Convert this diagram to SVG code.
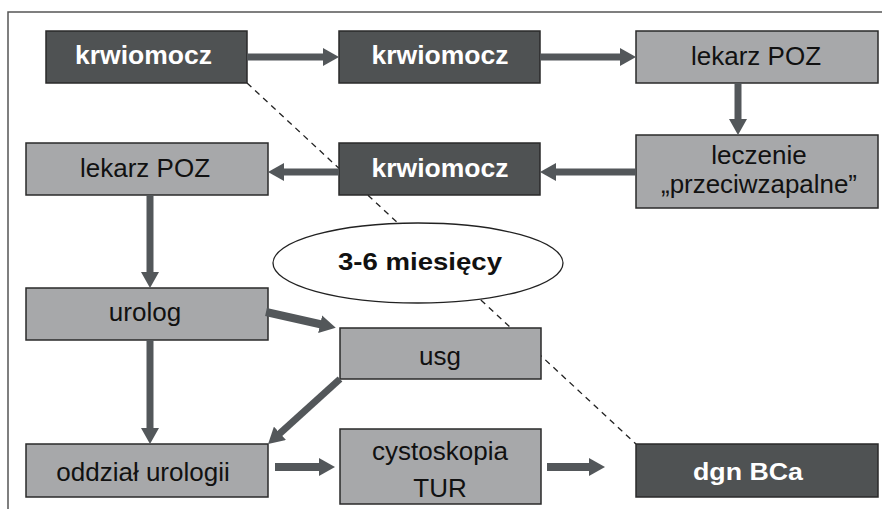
<svg xmlns="http://www.w3.org/2000/svg" width="882" height="509" viewBox="0 0 882 509">
<defs>
<style>
.dark rect{fill:#4f5253;stroke:#2a2a2a;stroke-width:1.5}
.light rect{fill:#a7a8aa;stroke:#2a2a2a;stroke-width:1.5}
.dark text{font-family:"Liberation Sans",Arial,sans-serif;font-weight:bold;fill:#ffffff;text-anchor:middle}
.light text{font-family:"Liberation Sans",Arial,sans-serif;font-size:26px;fill:#111111;text-anchor:middle}
.arr{stroke:#53575a;stroke-width:7;fill:none;marker-end:url(#ah)}
.dash{stroke:#222;stroke-width:1.3;stroke-dasharray:6 5;fill:none}
</style>
<marker id="ah" markerUnits="userSpaceOnUse" viewBox="0 0 16 18" markerWidth="16" markerHeight="18" refX="6" refY="9" orient="auto">
<path d="M0,0 L16,9 L0,18 z" fill="#53575a"/>
</marker>
</defs>
<rect width="882" height="509" fill="#ffffff"/>
<path d="M8,509 L8,12 L882,12" stroke="#555" stroke-width="1.5" fill="none"/>
<line class="dash" x1="247" y1="83" x2="636" y2="444"/>
<g id="n1" class="dark"><rect x="46" y="31" width="201" height="52"/><text x="143.5" y="64" font-size="25" textLength="137" lengthAdjust="spacingAndGlyphs">krwiomocz</text></g>
<g id="n2" class="dark"><rect x="339" y="31" width="201" height="52"/><text x="440" y="64" font-size="25" textLength="137" lengthAdjust="spacingAndGlyphs">krwiomocz</text></g>
<g id="n3" class="light"><rect x="636" y="31" width="242" height="52"/><text x="756" y="65">lekarz POZ</text></g>
<g id="n4" class="light"><rect x="636" y="135" width="242" height="73"/><text x="759" y="164" font-size="25">leczenie</text><text x="759" y="193" font-size="25" textLength="196" lengthAdjust="spacingAndGlyphs">„przeciwzapalne”</text></g>
<g id="n5" class="dark"><rect x="339" y="143" width="201" height="52"/><text x="440" y="177" font-size="25" textLength="137" lengthAdjust="spacingAndGlyphs">krwiomocz</text></g>
<g id="n6" class="light"><rect x="26" y="143" width="242" height="52"/><text x="145" y="177">lekarz POZ</text></g>
<g id="n7" class="light"><rect x="26" y="288" width="242" height="52"/><text x="145" y="321">urolog</text></g>
<g id="n8" class="light"><rect x="340" y="328" width="201" height="51"/><text x="440" y="365">usg</text></g>
<g id="n9" class="light"><rect x="26" y="444" width="242" height="53"/><text x="143" y="481">oddział urologii</text></g>
<g id="n10" class="light"><rect x="340" y="429" width="201" height="75"/><text x="440" y="460">cystoskopia</text><text x="440" y="497">TUR</text></g>
<g id="n11" class="dark"><rect x="636" y="444" width="242" height="53"/><text x="748" y="480" font-size="24" textLength="110" lengthAdjust="spacingAndGlyphs">dgn BCa</text></g>
<g id="n12"><ellipse cx="418" cy="263" rx="145" ry="40" fill="#ffffff" stroke="#222" stroke-width="1.3"/><text x="420" y="270" font-family="Liberation Sans,Arial,sans-serif" font-weight="bold" font-size="24" fill="#111" text-anchor="middle" textLength="164" lengthAdjust="spacingAndGlyphs">3-6 miesięcy</text></g>
<g id="connectors">
<line class="arr" x1="247" y1="57" x2="329" y2="57"/>
<line class="arr" x1="540" y1="57" x2="626" y2="57"/>
<line class="arr" x1="738" y1="83" x2="738" y2="125"/>
<line class="arr" x1="636" y1="172" x2="550" y2="172"/>
<line class="arr" x1="339" y1="172" x2="278" y2="172"/>
<line class="arr" x1="150" y1="195" x2="150" y2="278"/>
<line class="arr" x1="150" y1="340" x2="150" y2="434"/>
<line class="arr" x1="266" y1="312" x2="326" y2="325.5" style="stroke-width:8"/>
<line class="arr" x1="340" y1="379" x2="275.5" y2="437.3"/>
<line class="arr" x1="275" y1="467" x2="325" y2="467" style="stroke-width:8"/>
<line class="arr" x1="547" y1="467" x2="595" y2="467" style="stroke-width:8"/>
</g>
</svg>
